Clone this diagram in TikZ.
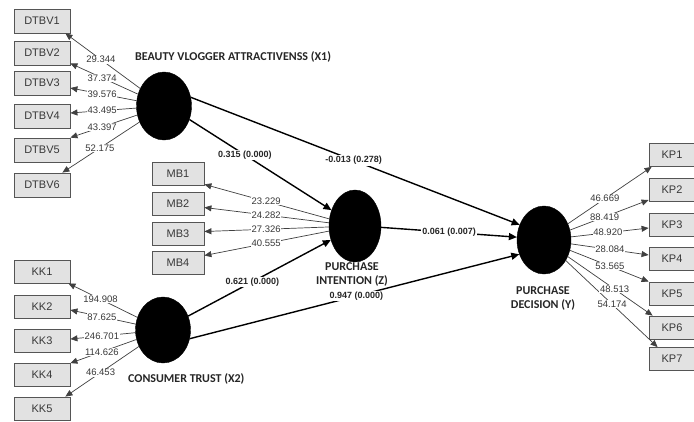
\documentclass[tikz,border=0pt]{standalone}
\usepackage{fontspec}
\setmainfont{Liberation Sans}
\newfontfamily\cali{Carlito}
\usetikzlibrary{shapes.geometric,arrows.meta,calc}
\definecolor{boxfill}{HTML}{E2E2E2}
\definecolor{boxline}{HTML}{555555}
\definecolor{ldgray}{HTML}{404040}
\definecolor{numgray}{HTML}{383838}
\begin{document}
\begin{tikzpicture}[x=1pt,y=-1pt,
  indbox/.style={draw=boxline, fill=boxfill, line width=0.8pt, minimum width=56pt, minimum height=24pt, inner sep=0pt, font=\fontsize{11}{12}\selectfont, text=numgray},
  mbbox/.style={indbox, minimum width=52pt, minimum height=23pt},
  kkbox/.style={indbox, minimum height=23pt},
  kpbox/.style={indbox, minimum width=46pt, minimum height=23pt},
  latent/.style={ellipse, fill=black, draw=black, inner sep=0pt},
  lvlabel/.style={font=\cali\bfseries\fontsize{12}{14}\selectfont, text=black!85, align=center, inner sep=0pt},
  load/.style={draw=ldgray, line width=0.7pt, -{Triangle[length=7pt,width=6pt]}},
  structarr/.style={draw=black, line width=1.4pt, -{Triangle[length=8pt,width=7pt]}},
  ldlbl/.style={fill=white, inner sep=0.6pt, font=\fontsize{9.5}{10}\selectfont, text=numgray},
  coef/.style={fill=white, inner sep=1pt, font=\bfseries\fontsize{9}{10}\selectfont, text=black!85}
]
\fill[white] (0,0) rectangle (694,421);
\useasboundingbox (0,0) rectangle (694,421);

% latent variables
\node[latent, minimum width=55pt, minimum height=68pt] (X1) at (164,106) {};
\node[latent, minimum width=52pt, minimum height=72pt] (Z) at (355,226) {};
\node[latent, minimum width=54pt, minimum height=68pt] (Y) at (544,240) {};
\node[latent, minimum width=55pt, minimum height=66pt] (X2) at (163,330) {};

\node[lvlabel, anchor=west] (lx1) at (135,57) {BEAUTY VLOGGER ATTRACTIVENSS (X1)};
\node[lvlabel] (lz) at (352,274) {PURCHASE\\INTENTION (Z)};
\node[lvlabel] (ly) at (543,298) {PURCHASE\\DECISION (Y)};
\node[lvlabel, anchor=west] (lx2) at (128,379) {CONSUMER TRUST (X2)};

% indicator boxes
\node[indbox] (d1) at (42,21) {DTBV1};
\node[indbox] (d2) at (42,53) {DTBV2};
\node[indbox] (d3) at (42,83) {DTBV3};
\node[indbox] (d4) at (42,116) {DTBV4};
\node[indbox] (d5) at (42,150) {DTBV5};
\node[indbox] (d6) at (42,185) {DTBV6};

\node[mbbox] (m1) at (178,173.5) {MB1};
\node[mbbox] (m2) at (178,203.5) {MB2};
\node[mbbox] (m3) at (178,233.5) {MB3};
\node[mbbox] (m4) at (178,262.5) {MB4};

\node[kkbox] (k1) at (42,271.5) {KK1};
\node[kkbox] (k2) at (42,306.5) {KK2};
\node[kkbox] (k3) at (42,340.5) {KK3};
\node[kkbox] (k4) at (42,375) {KK4};
\node[kkbox] (k5) at (42,408.5) {KK5};

\node[kpbox] (p1) at (672,155) {KP1};
\node[kpbox] (p2) at (672,190) {KP2};
\node[kpbox] (p3) at (672,225) {KP3};
\node[kpbox] (p4) at (672,258.5) {KP4};
\node[kpbox] (p5) at (672,293.5) {KP5};
\node[kpbox] (p6) at (672,327.5) {KP6};
\node[kpbox] (p7) at (672,359) {KP7};

% arrow tip coordinates
\coordinate (td1) at ($(d1.south east)+(-5,0)$);
\coordinate (td2) at ($(d2.south east)+(0,-2)$);
\coordinate (td3) at ($(d3.east)+(0,5)$);
\coordinate (td4) at ($(d4.east)+(0,-3)$);
\coordinate (td5) at (d5.north east);
\coordinate (td6) at ($(d6.north east)+(-8,0)$);

\coordinate (tm1) at ($(m1.south east)+(0,-1)$);
\coordinate (tm2) at ($(m2.east)+(0,4)$);
\coordinate (tm3) at ($(m3.east)+(0,-2)$);
\coordinate (tm4) at ($(m4.east)+(0,-7)$);

\coordinate (tk1) at ($(k1.south east)+(-2,0)$);
\coordinate (tk2) at ($(k2.east)+(0,3.5)$);
\coordinate (tk3) at ($(k3.east)+(0,-1.5)$);
\coordinate (tk4) at (k4.north east);
\coordinate (tk5) at ($(k5.north east)+(-5,0)$);

\coordinate (tp1) at ($(p1.south west)+(3,0)$);
\coordinate (tp2) at ($(p2.west)+(0,10)$);
\coordinate (tp3) at ($(p3.west)+(0,3)$);
\coordinate (tp4) at ($(p4.west)+(0,-3.5)$);
\coordinate (tp5) at (p5.north west);
\coordinate (tp6) at ($(p6.north west)+(4,0)$);
\coordinate (tp7) at ($(p7.north west)+(9,0)$);

% loadings X1
\draw[load] (X1) -- (td1);
\draw[load] (X1) -- (td2);
\draw[load] (X1) -- (td3);
\draw[load] (X1) -- (td4);
\draw[load] (X1) -- (td5);
\draw[load] (X1) -- (td6);
\node[ldlbl] at ($(X1.center)!0.64!(td1)$) {29.344};
\node[ldlbl] at ($(X1.center)!0.66!(td2)$) {37.374};
\node[ldlbl] at ($(X1.center)!0.66!(td3)$) {39.576};
\node[ldlbl] at ($(X1.center)!0.66!(td4)$) {43.495};
\node[ldlbl] at ($(X1.center)!0.66!(td5)$) {43.397};
\node[ldlbl] at ($(X1.center)!0.63!(td6)$) {52.175};

% loadings Z
\draw[load] (Z) -- (tm1);
\draw[load] (Z) -- (tm2);
\draw[load] (Z) -- (tm3);
\draw[load] (Z) -- (tm4);
\node[ldlbl] at ($(Z.center)!0.59!(tm1)$) {23.229};
\node[ldlbl] at ($(Z.center)!0.59!(tm2)$) {24.282};
\node[ldlbl] at ($(Z.center)!0.59!(tm3)$) {27.326};
\node[ldlbl] at ($(Z.center)!0.59!(tm4)$) {40.555};

% loadings X2
\draw[load] (X2) -- (tk1);
\draw[load] (X2) -- (tk2);
\draw[load] (X2) -- (tk3);
\draw[load] (X2) -- (tk4);
\draw[load] (X2) -- (tk5);
\node[ldlbl] at ($(X2.center)!0.66!(tk1)$) {194.908};
\node[ldlbl] at ($(X2.center)!0.66!(tk2)$) {87.625};
\node[ldlbl] at ($(X2.center)!0.66!(tk3)$) {246.701};
\node[ldlbl] at ($(X2.center)!0.66!(tk4)$) {114.626};
\node[ldlbl] at ($(X2.center)!0.64!(tk5)$) {46.453};

% loadings Y
\draw[load] (Y) -- (tp1);
\draw[load] (Y) -- (tp2);
\draw[load] (Y) -- (tp3);
\draw[load] (Y) -- (tp4);
\draw[load] (Y) -- (tp5);
\draw[load] (Y) -- (tp6);
\draw[load] (Y) -- (tp7);
\node[ldlbl] at ($(Y.center)!0.565!(tp1)$) {46.669};
\node[ldlbl] at ($(Y.center)!0.58!(tp2)$) {88.419};
\node[ldlbl] at ($(Y.center)!0.61!(tp3)$) {48.920};
\node[ldlbl] at ($(Y.center)!0.63!(tp4)$) {28.084};
\node[ldlbl] at ($(Y.center)!0.63!(tp5)$) {53.565};
\node[ldlbl] at ($(Y.center)!0.65!(tp6)$) {48.513};
\node[ldlbl] at ($(Y.center)!0.60!(tp7)$) {54.174};

% structural paths
\draw[structarr] (X1.18) -- node[coef, pos=0.495] {-0.013 (0.278)} (Y.148);
\draw[structarr] (X1.-28) -- node[coef, pos=0.39] {0.315 (0.000)} (Z.146);
\draw[structarr] (Z.-3) -- node[coef, pos=0.5] {0.061 (0.007)} (Y.174);
\draw[structarr] (X2.29) -- node[coef, pos=0.45] {0.621 (0.000)} (Z.210);
\draw[structarr] (X2.-18) -- node[coef, pos=0.506] {0.947 (0.000)} (Y.210);
\end{tikzpicture}
\end{document}
